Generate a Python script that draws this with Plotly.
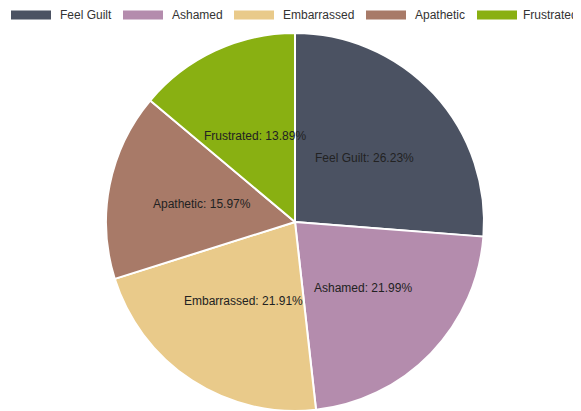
import plotly.graph_objects as go
import math

# ---- data ----
categories = ["Feel Guilt", "Ashamed", "Embarrassed", "Apathetic", "Frustrated"]
values = [26.23, 21.99, 21.91, 15.97, 13.89]
colors = ["#4b5262", "#b48cad", "#e9ca8a", "#a87a68", "#89b012"]

# ---- layout constants (pixels, page coords; page body has 8px margin) ----
OFF = 8
W, H = 581 - OFF, 411 - OFF
CX, CY, R = 295 - OFF, 222 - OFF, 189   # pie centre (from top) and radius
legend_icon_x = [x - OFF for x in [11, 123, 234, 366, 477]]
ICON_W = 40
ICON_Y0, ICON_Y1, LEG_Y = 10.5 - OFF, 19.5 - OFF, 15 - OFF
LAST_TEXT_RIGHT = 579.5 - OFF

def px(x):
    return x / W

def py(y):  # y measured from top
    return 1 - y / H

fig = go.Figure(go.Pie(
    labels=categories,
    values=values,
    sort=False,
    direction="clockwise",
    rotation=0,
    marker=dict(colors=colors, line=dict(color="white", width=2)),
    textinfo="none",
    hoverinfo="label+percent",
    showlegend=False,
    domain=dict(x=[px(CX - R), px(CX + R)], y=[py(CY + R), py(CY - R)]),
))

total = sum(values)
annotations = []
cum = 0.0
for lab, v in zip(categories, values):
    mid = (cum + v / 2) / total * 2 * math.pi
    cum += v
    rl = R / 2
    x = CX + rl * math.sin(mid)
    y = CY - rl * math.cos(mid)
    annotations.append(dict(
        x=px(x), y=py(y), xref="paper", yref="paper",
        text=f"{lab}: {v / total * 100:.2f}%", showarrow=False,
        xanchor="center", yanchor="middle",
        font=dict(family="Liberation Sans, Arial, sans-serif", size=12, color="#222"),
    ))

shapes = []
n = len(categories)
for i, (lab, col, ix) in enumerate(zip(categories, colors, legend_icon_x)):
    shapes.append(dict(
        type="rect", xref="paper", yref="paper",
        x0=px(ix), x1=px(ix + ICON_W), y0=py(ICON_Y1), y1=py(ICON_Y0),
        fillcolor=col, line=dict(width=0),
    ))
    last = i == n - 1
    annotations.append(dict(
        x=px(LAST_TEXT_RIGHT) if last else px(ix + ICON_W + 7),
        y=py(LEG_Y), xref="paper", yref="paper",
        text=lab, showarrow=False, xanchor="right" if last else "left",
        yanchor="middle",
        font=dict(family="Liberation Sans, Arial, sans-serif", size=12, color="#333"),
    ))

fig.update_layout(
    width=W, height=H,
    margin=dict(l=0, r=0, t=0, b=0),
    paper_bgcolor="white", plot_bgcolor="white",
    annotations=annotations, shapes=shapes,
)

fig.write_html("out.html")
